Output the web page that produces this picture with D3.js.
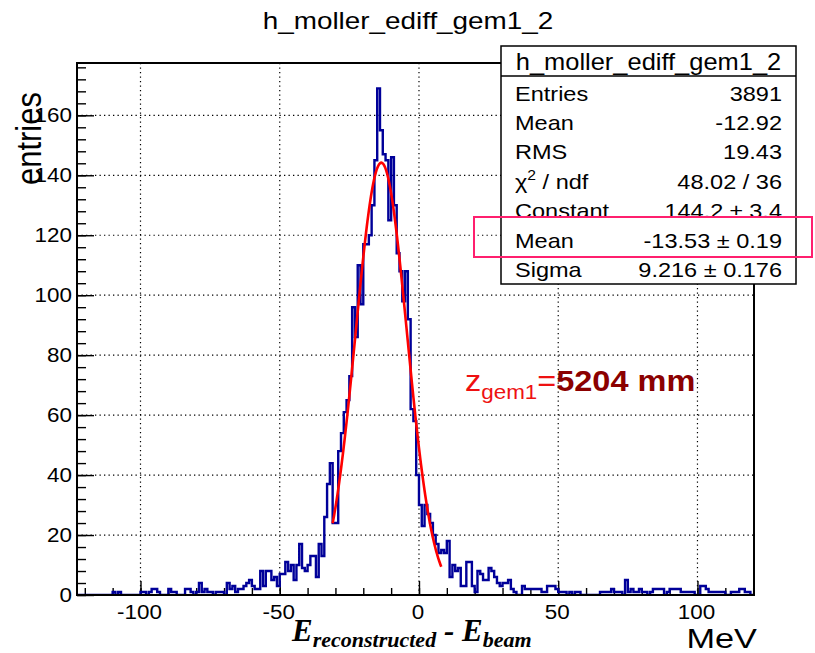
<!DOCTYPE html>
<html>
<head>
<meta charset="utf-8">
<script src="https://cdn.jsdelivr.net/npm/d3@7"></script>
<style>
  html, body { margin: 0; padding: 0; background: #fff; }
  svg { display: block; }
</style>
</head>
<body>
<svg id="chart" width="815" height="653"></svg>
<script>
// Histogram h_moller_ediff_gem1_2: 1 MeV bins, first bin starts at -123 MeV
const binStart = -123;
const binWidth = 1;
const counts = [
  // -123 .. -111
  0,0,0,0,0,0,0,0,0,0,0,0,0,
  // -110 .. -101
  1,0,1,0,0,0,0,0,0,0,
  // -100 .. -91
  1,1,0,1,2,2,1,0,0,0,
  // -90 .. -81
  2,1,1,0,0,0,2,2,1,0,
  // -80 .. -71
  1,4,1,2,1,1,0,1,1,1,
  // -70 .. -61
  0,4,2,3,1,2,2,3,4,5,
  // -60 .. -51
  3,2,2,8,3,8,8,5,6,3,
  // -50 .. -41
  7,7,11,8,10,5,10,17,9,8,
  // -40 .. -31
  10,13,13,6,17,13,26,37,44,24,
  // -30 .. -21
  24,48,54,61,65,73,96,86,110,97,
  // -20 .. -11
  117,117,120,130,145,169,155,147,145,125,
  // -10 .. -1
  146,130,114,108,98,108,92,62,58,40,
  // 0 .. 9
  30,23,30,27,24,20,17,14,15,14,
  // 10 .. 19
  18,6,10,8,9,3,3,11,11,3,
  // 20 .. 29
  1,8,7,5,5,9,8,6,4,3,
  // 30 .. 39
  4,4,5,2,1,0,0,3,2,2,
  // 40 .. 49
  2,2,2,2,1,1,3,3,3,2,
  // 50 .. 59
  1,1,1,0,1,0,1,1,0,0,
  // 60 .. 69
  0,0,0,0,0,1,1,1,1,2,
  // 70 .. 79
  1,1,1,0,5,1,2,1,1,2,
  // 80 .. 89
  1,1,0,1,2,2,2,2,0,1,
  // 90 .. 99
  2,2,2,2,1,1,1,1,1,0,
  // 100 .. 109
  0,3,3,2,1,1,1,1,1,1,
  // 110 .. 119
  0,0,1,1,1,2,2,1,1,0
];

// Gaussian fit results (stat box)
const fitConstant = 144.2;
const fitMean = -13.53;
const fitSigma = 9.216;
const fitRange = [-31, 8];

// Stat box rows
const statLabels = ["Entries", "Mean", "RMS", "\u03C7\u00B2 / ndf", "Constant", "Mean", "Sigma"];
const statValues = ["3891", "-12.92", "19.43", "48.02 / 36", "144.2 \u00B1 3.4", "-13.53 \u00B1 0.19", "9.216 \u00B1 0.176"];

// Axis ticks
const xMajorTicks = [-100, -50, 0, 50, 100];
const xMinorTicks = d3.range(-120, 121, 10);
const yMajorTicks = [0, 20, 40, 60, 80, 100, 120, 140, 160];
const yMinorTicks = d3.range(0, 177, 4);

const svg = d3.select("#chart");
const SANS = "'Liberation Sans', Arial, Helvetica, sans-serif";
const SERIF = "'Liberation Serif', 'Times New Roman', serif";
const STRETCH = 1.12;

function stretch(sel, k) {
  sel.each(function () {
    const w = this.getComputedTextLength();
    d3.select(this).attr("textLength", w * k).attr("lengthAdjust", "spacingAndGlyphs");
  });
  return sel;
}

const frame = { left: 77, right: 754, top: 63, bottom: 595 };
const yMax = 1.05 * d3.max(counts);

const x = d3.scaleLinear().domain([-122.8, 120.3]).range([frame.left, frame.right]);
const y = d3.scaleLinear().domain([0, yMax]).range([frame.bottom, frame.top]);

// Clip for plot area
svg.append("defs").append("clipPath").attr("id", "plotClip")
  .append("rect")
  .attr("x", frame.left).attr("y", frame.top)
  .attr("width", frame.right - frame.left).attr("height", frame.bottom - frame.top);

// Grid lines (dotted)
const grid = svg.append("g").attr("stroke", "#000").attr("stroke-width", 1.2)
  .attr("stroke-dasharray", "1.3,3.2");
grid.selectAll("line.gx").data(xMajorTicks).join("line")
  .attr("x1", d => x(d)).attr("x2", d => x(d))
  .attr("y1", frame.top).attr("y2", frame.bottom);
grid.selectAll("line.gy").data(yMajorTicks.filter(d => d > 0)).join("line")
  .attr("y1", d => y(d)).attr("y2", d => y(d))
  .attr("x1", frame.left).attr("x2", frame.right);

// Axes
const xAxisMajor = d3.axisBottom(x).tickValues(xMajorTicks).tickSize(-14).tickFormat("");
const xAxisMinor = d3.axisBottom(x).tickValues(xMinorTicks).tickSize(-7).tickFormat("");
const yAxisMajor = d3.axisLeft(y).tickValues(yMajorTicks).tickSize(-17).tickFormat("");
const yAxisMinor = d3.axisLeft(y).tickValues(yMinorTicks).tickSize(-9).tickFormat("");

function styleAxis(g) {
  g.select(".domain").remove();
  g.selectAll(".tick line").attr("stroke", "#000").attr("stroke-width", 1.4);
}
svg.append("g").attr("transform", `translate(0,${frame.bottom})`).call(xAxisMajor).call(styleAxis);
svg.append("g").attr("transform", `translate(0,${frame.bottom})`).call(xAxisMinor).call(styleAxis);
svg.append("g").attr("transform", `translate(${frame.left},0)`).call(yAxisMajor).call(styleAxis);
svg.append("g").attr("transform", `translate(${frame.left},0)`).call(yAxisMinor).call(styleAxis);

// Tick labels
const xLab = svg.append("g").attr("font-family", SANS).attr("font-size", 20).attr("fill", "#000");
xLab.selectAll("text").data(xMajorTicks).join("text")
  .attr("x", d => x(d) - 1).attr("y", 619).attr("text-anchor", "middle").text(d => d)
  .call(stretch, STRETCH);
const yLab = svg.append("g").attr("font-family", SANS).attr("font-size", 20).attr("fill", "#000");
yLab.selectAll("text").data(yMajorTicks).join("text")
  .attr("x", 72).attr("y", d => y(d) + 7).attr("text-anchor", "end").text(d => d)
  .call(stretch, STRETCH);

// Histogram outline
const bins = counts.map((c, i) => ({ lo: binStart + i * binWidth, hi: binStart + (i + 1) * binWidth, c }));
let path = `M${x(bins[0].lo)},${y(0)}`;
bins.forEach(b => { path += `L${x(b.lo)},${y(b.c)}L${x(b.hi)},${y(b.c)}`; });
path += `L${x(bins[bins.length - 1].hi)},${y(0)}`;
svg.append("path").attr("d", path).attr("clip-path", "url(#plotClip)")
  .attr("fill", "none").attr("stroke", "#000099").attr("stroke-width", 2.4)
  .attr("stroke-linejoin", "miter");

// Gaussian fit curve
const gaus = v => fitConstant * Math.exp(-0.5 * Math.pow((v - fitMean) / fitSigma, 2));
const fitPts = d3.range(fitRange[0], fitRange[1] + 0.001, 0.25).map(v => [v, gaus(v)]);
svg.append("path")
  .attr("d", d3.line().x(d => x(d[0])).y(d => y(d[1]))(fitPts))
  .attr("fill", "none").attr("stroke", "#ff0000").attr("stroke-width", 2.6);

// Frame
svg.append("rect").attr("x", frame.left).attr("y", frame.top)
  .attr("width", frame.right - frame.left).attr("height", frame.bottom - frame.top)
  .attr("fill", "none").attr("stroke", "#000").attr("stroke-width", 2);

// Title
svg.append("text").attr("x", 408).attr("y", 29).attr("text-anchor", "middle")
  .attr("font-family", SANS).attr("font-size", 24).text("h_moller_ediff_gem1_2")
  .call(stretch, 1.16);

// Axis titles
svg.append("text").attr("transform", "translate(41,92) scale(1.12,1) rotate(-90)")
  .attr("text-anchor", "end").attr("font-family", SANS).attr("font-size", 31)
  .text("entries");

const xt = svg.append("text").attr("x", 292).attr("y", 641)
  .attr("font-family", SERIF).attr("font-weight", "bold").attr("font-style", "italic").attr("font-size", 31);
xt.append("tspan").text("E");
xt.append("tspan").attr("font-size", 22).attr("dy", 6).text("reconstructed");
xt.append("tspan").attr("dy", -6).text(" - E");
xt.append("tspan").attr("font-size", 22).attr("dy", 6).text("beam");

svg.append("text").attr("x", 757).attr("y", 647.5).attr("text-anchor", "end")
  .attr("font-family", SANS).attr("font-size", 27).text("MeV").call(stretch, 1.27);

// Stat box
const box = { x: 501, y: 46, w: 295, h: 238, head: 30 };
svg.append("rect").attr("x", box.x).attr("y", box.y).attr("width", box.w).attr("height", box.h)
  .attr("fill", "#fff").attr("stroke", "#000").attr("stroke-width", 1.5);
svg.append("line").attr("x1", box.x).attr("x2", box.x + box.w)
  .attr("y1", box.y + box.head).attr("y2", box.y + box.head)
  .attr("stroke", "#000").attr("stroke-width", 1.5);
svg.append("text").attr("x", box.x + box.w / 2).attr("y", 70).attr("text-anchor", "middle")
  .attr("font-family", SANS).attr("font-size", 24).text("h_moller_ediff_gem1_2")
  .call(stretch, 1.06);

const rowY = i => 100.5 + i * 29.4;
const statG = svg.append("g").attr("font-family", SANS).attr("font-size", 21).attr("fill", "#000");
statLabels.forEach((lab, i) => {
  if (i === 5) {
    // highlighted row sits on its own white band
    statG.append("rect").attr("x", box.x + 1).attr("y", 217.5)
      .attr("width", box.w - 2).attr("height", 38).attr("fill", "#fff");
  }
  const t = statG.append("text").attr("x", 515).attr("y", rowY(i));
  if (lab.startsWith("\u03C7")) {
    t.append("tspan").text("\u03C7");
    t.append("tspan").attr("font-size", 14).attr("dy", -9).text("2");
    t.append("tspan").attr("dy", 9).text(" / ndf");
  } else {
    t.text(lab);
  }
  t.call(stretch, STRETCH);
  statG.append("text").attr("x", 782).attr("y", rowY(i)).attr("text-anchor", "end")
    .text(statValues[i]).call(stretch, STRETCH);
});

// Highlight frame round the fitted mean
svg.append("rect").attr("x", 474).attr("y", 217).attr("width", 338).attr("height", 40)
  .attr("fill", "none").attr("stroke", "#ff1f6e").attr("stroke-width", 2);

// Annotation: GEM position
const ann = svg.append("text").attr("x", 465).attr("y", 391).attr("font-family", SANS).attr("font-size", 29);
ann.append("tspan").attr("fill", "#ee1111").text("z");
ann.append("tspan").attr("fill", "#ee1111").attr("font-size", 20).attr("dy", 8).text("gem1");
ann.append("tspan").attr("fill", "#ee1111").attr("dy", -8).text("=");
ann.append("tspan").attr("fill", "#8b0000").attr("font-weight", "bold").text("5204 mm");
ann.call(stretch, STRETCH);
</script>
</body>
</html>
